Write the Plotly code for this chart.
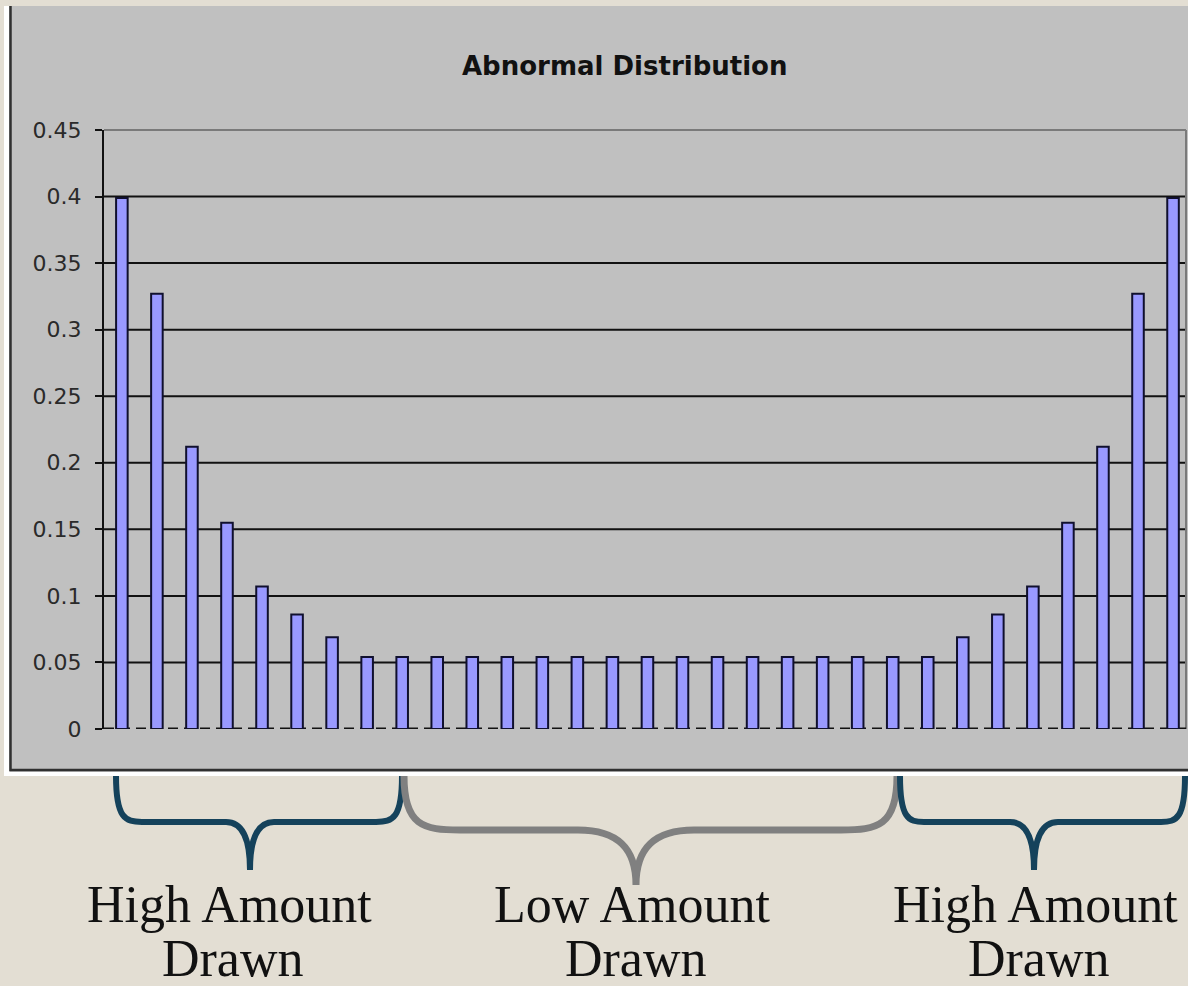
import plotly.graph_objects as go

# ---------------- data ----------------
categories = [str(i) for i in range(1, 32)]
values = [0.399, 0.327, 0.212, 0.155, 0.107, 0.086, 0.069,
          0.054, 0.054, 0.054, 0.054, 0.054, 0.054, 0.054, 0.054, 0.054,
          0.054, 0.054, 0.054, 0.054, 0.054, 0.054, 0.054, 0.054,
          0.069, 0.086, 0.107, 0.155, 0.212, 0.327, 0.399]
y_ticks = [0, 0.05, 0.1, 0.15, 0.2, 0.25, 0.3, 0.35, 0.4, 0.45]
y_tick_labels = ["0", "0.05", "0.1", "0.15", "0.2", "0.25", "0.3", "0.35", "0.4", "0.45"]
title_text = "Abnormal Distribution"
group_labels = [("High Amount", "Drawn"), ("Low Amount", "Drawn"), ("High Amount", "Drawn")]

# ---------------- layout geometry (page pixels) ----------------
W, H = 1188, 986
PL, PR, PT, PB = 104, 1186, 130, 729


def px(x):
    return (x - PL) / (PR - PL)


def py(y):
    return (PB - y) / (PB - PT)


BEIGE = "#E3DED3"
GRAY = "#C0C0C0"
TEAL = "#15425B"

fig = go.Figure()
fig.add_trace(go.Bar(
    x=categories, y=values,
    marker=dict(color="#9999FF", line=dict(color="#10102E", width=2)),
    hoverinfo="x+y",
))

shapes = []
# chart area box (white outline, gray fill, dark left/bottom edge)
shapes.append(dict(type="rect", xref="paper", yref="paper", layer="below",
                   x0=px(4), x1=px(1200), y0=py(776), y1=py(6),
                   fillcolor="white", line=dict(width=0)))
shapes.append(dict(type="rect", xref="paper", yref="paper", layer="below",
                   x0=px(9), x1=px(1200), y0=py(772), y1=py(6),
                   fillcolor=GRAY, line=dict(width=0)))
shapes.append(dict(type="line", xref="paper", yref="paper", layer="below",
                   x0=px(10.5), x1=px(10.5), y0=py(771), y1=py(6),
                   line=dict(color="#303030", width=2.5)))
shapes.append(dict(type="line", xref="paper", yref="paper", layer="below",
                   x0=px(10), x1=px(1200), y0=py(770), y1=py(770),
                   line=dict(color="#303030", width=2.5)))
# gridlines
for t in y_ticks[1:-1]:
    shapes.append(dict(type="line", xref="paper", yref="y", layer="below",
                       x0=0, x1=1, y0=t, y1=t,
                       line=dict(color="#111111", width=2)))
# plot-area border (top / right)
shapes.append(dict(type="line", xref="paper", yref="paper", layer="below",
                   x0=0, x1=1, y0=1, y1=1, line=dict(color="#7A7A7A", width=2)))
shapes.append(dict(type="line", xref="paper", yref="paper", layer="below",
                   x0=1, x1=1, y0=0, y1=1, line=dict(color="#7A7A7A", width=2)))
# dashed category axis
shapes.append(dict(type="line", xref="paper", yref="y", layer="below",
                   x0=0, x1=1, y0=0, y1=0,
                   line=dict(color="#111111", width=3, dash="10px,6px")))


def brace(x0, x1, xm, ytop, yh, ytip, r1, r2):
    s = f"M {px(x0)},{py(ytop)} "
    s += f"C {px(x0)},{py(yh - 4)} {px(x0 + r1 * 0.35)},{py(yh)} {px(x0 + r1)},{py(yh)} "
    s += f"L {px(xm - r2)},{py(yh)} "
    s += f"C {px(xm - r2 * 0.3)},{py(yh)} {px(xm)},{py(yh + (ytip - yh) * 0.35)} {px(xm)},{py(ytip)} "
    s += f"C {px(xm)},{py(yh + (ytip - yh) * 0.35)} {px(xm + r2 * 0.3)},{py(yh)} {px(xm + r2)},{py(yh)} "
    s += f"L {px(x1 - r1)},{py(yh)} "
    s += f"C {px(x1 - r1 * 0.35)},{py(yh)} {px(x1)},{py(yh - 4)} {px(x1)},{py(ytop)}"
    return s


shapes.append(dict(type="path", xref="paper", yref="paper",
                   path=brace(116, 402, 250, 776, 822, 870, 26, 24),
                   line=dict(color=TEAL, width=6)))
shapes.append(dict(type="path", xref="paper", yref="paper",
                   path=brace(404, 897, 636, 776, 830, 885, 56, 58),
                   line=dict(color="#808080", width=7)))
shapes.append(dict(type="path", xref="paper", yref="paper",
                   path=brace(900, 1185, 1034, 776, 822, 870, 24, 24),
                   line=dict(color=TEAL, width=6)))

annotations = [dict(text=f"<b>{title_text}</b>", xref="paper", yref="paper",
                    x=px(625), y=py(66), xanchor="center", yanchor="middle",
                    showarrow=False,
                    font=dict(family="DejaVu Sans", size=26, color="#111111"))]
centers = [229, 632, 1035]
for (l1, l2), cx in zip(group_labels, centers):
    annotations.append(dict(text=l1, xref="paper", yref="paper", x=px(cx), y=py(904),
                            xanchor="center", yanchor="middle", showarrow=False,
                            font=dict(family="Liberation Serif", size=52, color="#111111")))
    annotations.append(dict(text=l2, xref="paper", yref="paper", x=px(cx + 4), y=py(958),
                            xanchor="center", yanchor="middle", showarrow=False,
                            font=dict(family="Liberation Serif", size=52, color="#111111")))

fig.update_layout(
    width=W, height=H,
    margin=dict(l=PL, r=W - PR, t=PT, b=H - PB, autoexpand=False),
    paper_bgcolor=BEIGE, plot_bgcolor=GRAY,
    showlegend=False, bargap=0.67,
    shapes=shapes, annotations=annotations,
    xaxis=dict(type="category", range=[-0.51, 30.37], showticklabels=False,
               showgrid=False, zeroline=False, showline=False, ticks=""),
    yaxis=dict(range=[0, 0.45], tickvals=y_ticks, ticktext=y_tick_labels,
               showgrid=False, zeroline=False, showline=True, linecolor="#111111",
               linewidth=2, ticks="outside", ticklen=7, tickwidth=2, tickcolor="#111111",
               ticklabelstandoff=9,
               tickfont=dict(family="DejaVu Sans", size=22, color="#2A2A2A")),
)

fig.write_html(
    "out.html",
    config={"displayModeBar": False},
    post_script="document.body.style.margin='0';document.body.style.background='" + BEIGE + "';",
)
